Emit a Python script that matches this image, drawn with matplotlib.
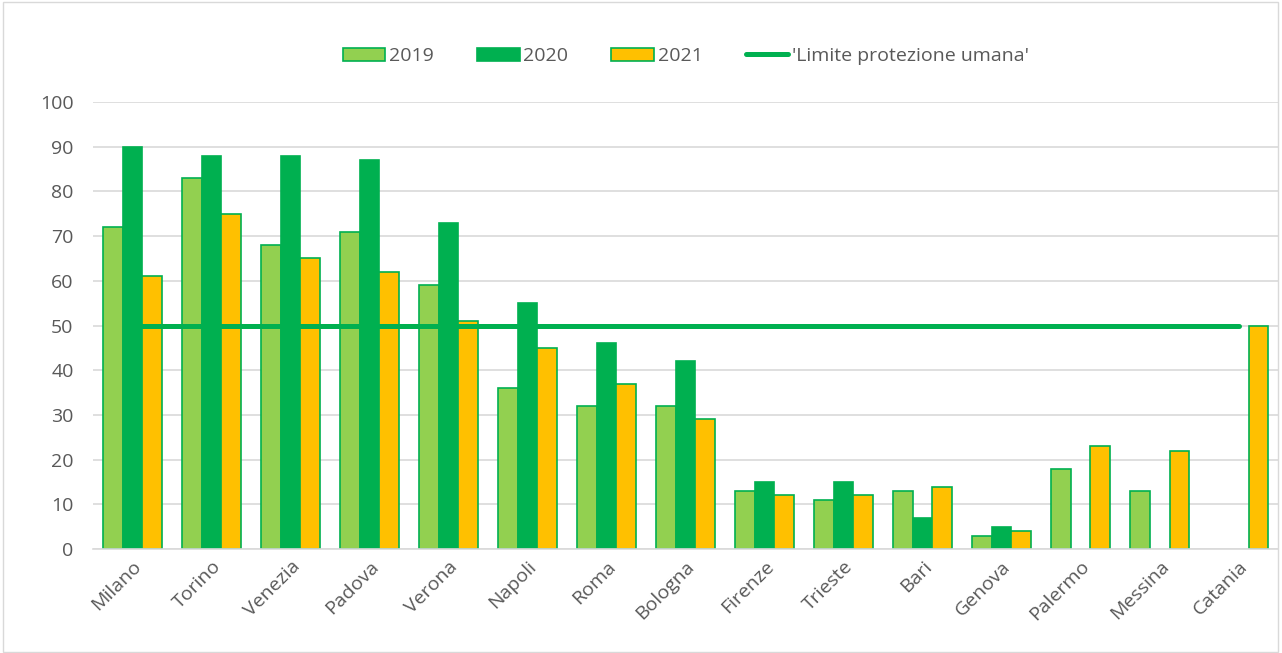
import numpy as np
import matplotlib
matplotlib.use("Agg")
import matplotlib.pyplot as plt
from matplotlib.patches import Rectangle, Patch
from matplotlib.lines import Line2D

plt.rcParams['font.family'] = ['Open Sans', 'DejaVu Sans']

cities = ['Milano', 'Torino', 'Venezia', 'Padova', 'Verona', 'Napoli', 'Roma',
          'Bologna', 'Firenze', 'Trieste', 'Bari', 'Genova', 'Palermo',
          'Messina', 'Catania']
y2019 = [72, 83, 68, 71, 59, 36, 32, 32, 13, 11, 13, 3, 18, 13, np.nan]
y2020 = [90, 88, 88, 87, 73, 55, 46, 42, 15, 15, 7, 5, np.nan, np.nan, np.nan]
y2021 = [61, 75, 65, 62, 51, 45, 37, 29, 12, 12, 14, 4, 23, 22, 50]
limite = [50] * len(cities)

c19, c20, c21 = '#92D050', '#00B050', '#FFC000'
edge = '#00B050'
txt = '#595959'

fig = plt.figure(figsize=(12.82, 6.53), dpi=100)
ax = fig.add_axes([0.0725, 0.159, 0.9245, 0.685])

x = np.arange(len(cities))
w = 0.25
ax.bar(x - w, y2019, w, color=c19, edgecolor=edge, linewidth=1.2, zorder=2)
ax.bar(x, y2020, w, color=c20, edgecolor=edge, linewidth=1.2, zorder=2)
ax.bar(x + w, y2021, w, color=c21, edgecolor=edge, linewidth=1.2, zorder=2)
ax.plot(x, limite, color=c20, linewidth=3.6, zorder=3, solid_capstyle='round')

ax.set_xlim(-0.5, len(cities) - 0.5)
ax.set_ylim(0, 100)
ax.set_yticks(range(0, 101, 10))
ax.yaxis.grid(True, color='#D9D9D9', linewidth=1.2)
ax.set_axisbelow(True)
for s in ['top', 'right', 'left']:
    ax.spines[s].set_visible(False)
ax.spines['bottom'].set_color('#D9D9D9')
ax.spines['bottom'].set_linewidth(1.2)
ax.tick_params(axis='both', length=0, labelsize=14, colors=txt, pad=14)
ax.set_xticks(x)
ax.set_xticklabels(cities, rotation=45, ha='right', rotation_mode='anchor')
ax.tick_params(axis='x', pad=6)

handles = [Patch(facecolor=c19, edgecolor=edge, linewidth=1.2),
           Patch(facecolor=c20, edgecolor=edge, linewidth=1.2),
           Patch(facecolor=c21, edgecolor=edge, linewidth=1.2),
           Line2D([0], [0], color=c20, linewidth=3.6, solid_capstyle='round')]
labels = ['2019', '2020', '2021', "'Limite protezione umana'"]
fig.legend(handles, labels, loc='center', bbox_to_anchor=(0.535, 0.914), ncol=4,
           frameon=False, fontsize=14, labelcolor=txt, handlelength=2.2,
           handletextpad=0.2, columnspacing=2.2)

fig.add_artist(Rectangle((0.002, 0.002), 0.995, 0.995, transform=fig.transFigure,
                         fill=False, edgecolor='#D9D9D9', linewidth=1))

fig.savefig('out.png', dpi=100)
